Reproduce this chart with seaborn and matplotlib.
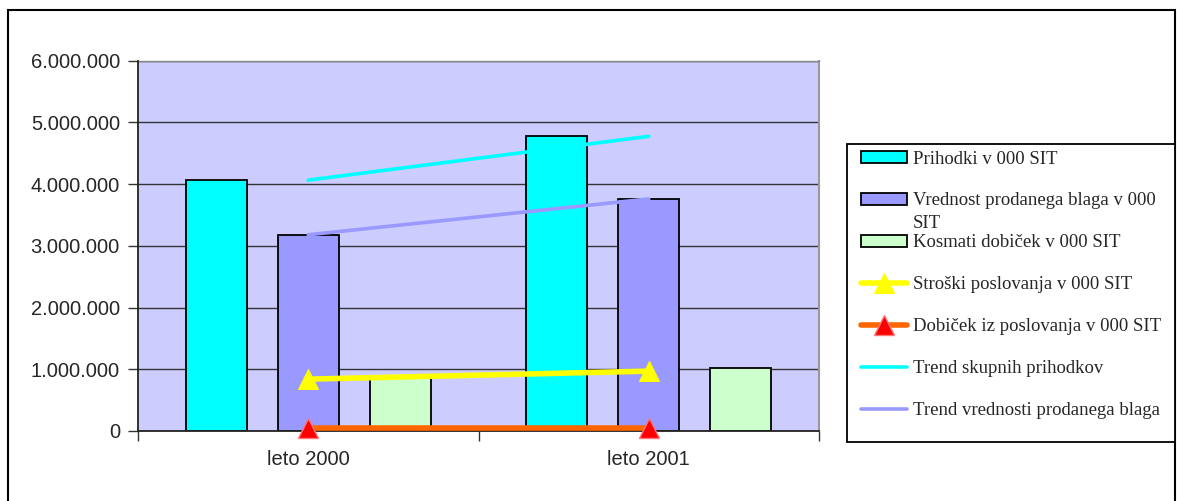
import numpy as np
import pandas as pd
import matplotlib
matplotlib.use("Agg")
import matplotlib.pyplot as plt
import seaborn as sns
from matplotlib.patches import Patch, Rectangle
from matplotlib.ticker import FuncFormatter

# ---------------- data ----------------
categories = ["leto 2000", "leto 2001"]
bar_series = ["Prihodki v 000 SIT",
              "Vrednost prodanega blaga v 000 SIT",
              "Kosmati dobiček v 000 SIT"]
prihodki = [4065000, 4775000]
vrednost = [3180000, 3760000]
kosmati = [890000, 1020000]
stroski_label = "Stroški poslovanja v 000 SIT"
stroski = [840000, 970000]
dobicek_label = "Dobiček iz poslovanja v 000 SIT"
dobicek = [55000, 55000]
trend_labels = ["Trend skupnih prihodkov", "Trend vrednosti prodanega blaga"]
y_ticks = [0, 1000000, 2000000, 3000000, 4000000, 5000000, 6000000]

bar_colors = ["#00FFFF", "#9999FF", "#CCFFCC"]

# ---------------- figure ----------------
W, H = 1177, 501
fig = plt.figure(figsize=(W / 100, H / 100), dpi=100)
sns.set_style("white")
plt.rcParams["font.family"] = ["Liberation Sans", "DejaVu Sans"]

def fx(px):
    return px / W

def fy(py):
    return 1 - py / H

ax = fig.add_axes([fx(138), fy(431), fx(819) - fx(138), fy(60.7) - fy(431)])
ax.set_facecolor("#CCCCFF")

df = pd.DataFrame({
    "leto": categories * 3,
    "serija": [bar_series[0]] * 2 + [bar_series[1]] * 2 + [bar_series[2]] * 2,
    "vrednost": prihodki + vrednost + kosmati,
})

sns.barplot(data=df, x="leto", y="vrednost", hue="serija", order=categories,
            hue_order=bar_series, palette=bar_colors, width=0.81, gap=0.34,
            edgecolor="black", linewidth=1.3, saturation=1, legend=False,
            errorbar=None, ax=ax, zorder=2)

pos = np.arange(len(categories))

# trend lines (linear fit through the series)
trend1 = np.polyval(np.polyfit(pos, prihodki, 1), pos)
trend2 = np.polyval(np.polyfit(pos, vrednost, 1), pos)

sns.lineplot(x=pos, y=trend1, color="#00FFFF", lw=2.6, ax=ax, zorder=4,
             label=trend_labels[0], legend=False)
sns.lineplot(x=pos, y=trend2, color="#9999FF", lw=2.6, ax=ax, zorder=4,
             label=trend_labels[1], legend=False)
sns.lineplot(x=pos, y=stroski, color="#FFFF00", lw=4, marker="^",
             markersize=15, markeredgecolor="#FFFF00", markerfacecolor="#FFFF00",
             ax=ax, zorder=5, label=stroski_label, legend=False)
sns.lineplot(x=pos, y=dobicek, color="#FF6600", lw=4, marker="^",
             markersize=15, markeredgecolor="#FF7777", markerfacecolor="#FF0000",
             markeredgewidth=1, ax=ax, zorder=5, label=dobicek_label, legend=False)

for ln in ax.lines:
    ln.set_clip_on(False)

ax.set_xlim(-0.5, 1.5)
ax.set_ylim(0, 6000000)
ax.set_yticks(y_ticks)
ax.yaxis.set_major_formatter(FuncFormatter(lambda v, p: f"{int(v):,}".replace(",", ".")))
ax.set_xticks([-0.5, 0.5, 1.5], minor=False)
ax.set_xticks(pos, minor=True)
ax.set_xticklabels(["", "", ""])
ax.set_xticklabels(categories, minor=True)
ax.tick_params(axis="x", which="minor", length=0, pad=14, labelsize=14.5)
ax.tick_params(axis="x", which="major", length=7, width=1, color="#333333",
               direction="out", bottom=True)
ax.tick_params(axis="y", length=7, width=1, color="#333333", direction="out",
               pad=6, labelsize=14.5, left=True)
ax.set_xlabel("")
ax.set_ylabel("")
ax.yaxis.grid(True, color="#333333", lw=1)
ax.xaxis.grid(False)
ax.set_axisbelow(True)

for s in ["left", "bottom"]:
    ax.spines[s].set_color("#222222")
    ax.spines[s].set_linewidth(1.3)
ax.spines["right"].set_color("#999999")
ax.spines["right"].set_linewidth(1.5)
ax.spines["top"].set_color("#888888")
ax.spines["top"].set_linewidth(1)
ax.spines["left"].set_zorder(6)
ax.spines["bottom"].set_zorder(3)

# outer chart border
fig.patches.append(Rectangle((fx(8), fy(503)), fx(1175) - fx(8), fy(10) - fy(503),
                             transform=fig.transFigure, fill=False,
                             edgecolor="black", lw=1.5, clip_on=False))
# legend frame
fig.patches.append(Rectangle((fx(846.5), fy(441.5)), fx(1175) - fx(846.5),
                             fy(144) - fy(441.5), transform=fig.transFigure,
                             facecolor="white", edgecolor="black", lw=1.3, zorder=1))

# legend
handles = [Patch(facecolor=c, edgecolor="black", lw=1.3) for c in bar_colors]
labels = ["Prihodki v 000 SIT", "Vrednost prodanega blaga v 000",
          "Kosmati dobiček v 000 SIT"]
line_by_label = {ln.get_label(): ln for ln in ax.lines}
for lab in [stroski_label, dobicek_label] + trend_labels:
    handles.append(line_by_label[lab])
    labels.append(lab)

leg = fig.legend(handles, labels, loc="upper left",
                 bbox_to_anchor=(fx(861), fy(150.5)),
                 frameon=False, borderpad=0, borderaxespad=0,
                 handlelength=2.45, handleheight=0.6, handletextpad=0.3,
                 labelspacing=1.33,
                 prop={"family": ["Liberation Serif", "DejaVu Serif"], "size": 13.5})
leg.set_zorder(3)

fig.canvas.draw()
t = leg.get_texts()[1]
bb = t.get_window_extent()
fig.text(bb.x0 / W, (bb.y0 + bb.y1) / 2 / H - 22.5 / H, "SIT",
         ha="left", va="center",
         family=["Liberation Serif", "DejaVu Serif"], fontsize=13.5, zorder=4)

fig.savefig("out.png", dpi=100)
